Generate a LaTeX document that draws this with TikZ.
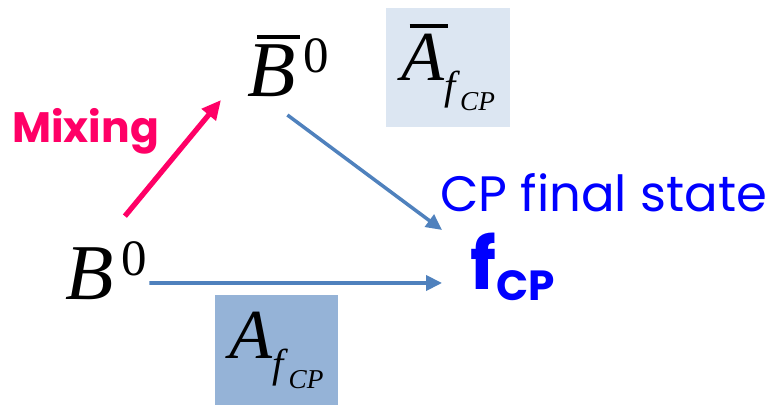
\documentclass[tikz,border=0pt]{standalone}
\usepackage{fontspec}
\setmainfont{Liberation Serif}
\newfontfamily\handfont{Poppins}
\usepackage{xcolor}
\usepackage{tikz}
\usetikzlibrary{arrows.meta}

\definecolor{mixpink}{HTML}{FF0066}
\definecolor{arrowblue}{HTML}{4F81BD}
\definecolor{lightbox}{HTML}{DCE6F2}
\definecolor{darkbox}{HTML}{95B3D7}
\definecolor{stateblue}{HTML}{0000FF}

% italic letter with a bar over it
\newsavebox\barbox
\newcommand{\barred}[1]{%
  \sbox\barbox{\textit{#1}}%
  \rlap{\hspace{0.12em}\raisebox{\dimexpr\ht\barbox+0.08em\relax}{\rule{0.9\wd\barbox}{0.055em}}}%
  \usebox\barbox}
% raised zero of the mesons
\newcommand{\upzero}{\hspace{0.1em}\raisebox{14pt}{\fontsize{29}{30}\selectfont 0}}
% subscript f_CP of the amplitudes
\newcommand{\fcpsub}{\raisebox{-10.8pt}{\fontsize{23}{24}\selectfont\textit{f}\raisebox{-6.3pt}{\fontsize{15.5}{16}\selectfont\textit{CP}}}}

\begin{document}
\begin{tikzpicture}[
  meson/.style = {inner sep=0pt, anchor=base west, font=\fontsize{45}{50}\selectfont},
  amp/.style = {
    rectangle, inner sep=0pt,
    minimum width=2.47cm, minimum height=2.3cm,
    font=\fontsize{40}{44}\selectfont
  },
  hand/.style = {inner sep=0pt, anchor=base west, font=\handfont},
  arr/.style = {-{Triangle[length=9pt, width=8.5pt]}, line width=2pt, arrowblue},
  mix/.style = {-{Triangle[length=11pt, width=10pt]}, line width=3pt, mixpink}
]
\useasboundingbox (0,0) rectangle (15.54,8.12);

% Amplitude boxes
\node[amp, fill=lightbox, minimum height=2.38cm] (abarbox) at (8.96,6.77) {\barred{A}\fcpsub};
\node[amp, fill=darkbox, minimum height=2.2cm] (abox) at (5.53,1.12) {\textit{A}\fcpsub};

% Mesons
\node[meson] (b0) at (1.3,2.12) {\textit{B}\upzero};
\node[meson] (b0bar) at (4.94,6.18) {\barred{B}\upzero};

% Final state
\node[hand, text=stateblue, font=\handfont\bfseries\fontsize{41}{44}\selectfont] (fcp) at (9.4,2.32)
  {f\raisebox{-5.7pt}{\fontsize{24}{26}\selectfont CP}};
\node[hand, text=stateblue, font=\handfont\fontsize{28.3}{30}\selectfont] (state) at (8.8,3.88) {CP final state};

% Mixing
\node[hand, text=mixpink, font=\handfont\bfseries\fontsize{24.2}{28}\selectfont] (mixing) at (0.24,5.26) {Mixing};

% Arrows
\draw[mix] ([shift={(-0.45,0.50)}]b0.north east) -- ([shift={(-0.52,-0.06)}]b0bar.base west);
\draw[arr] ([shift={(-0.84,-0.36)}]b0bar.base east) -- ([shift={(-0.56,1.2)}]fcp.base west);
\draw[arr] ([shift={(0.04,0.34)}]b0.base east) -- ([shift={(-0.56,0.14)}]fcp.base west);

\end{tikzpicture}
\end{document}
